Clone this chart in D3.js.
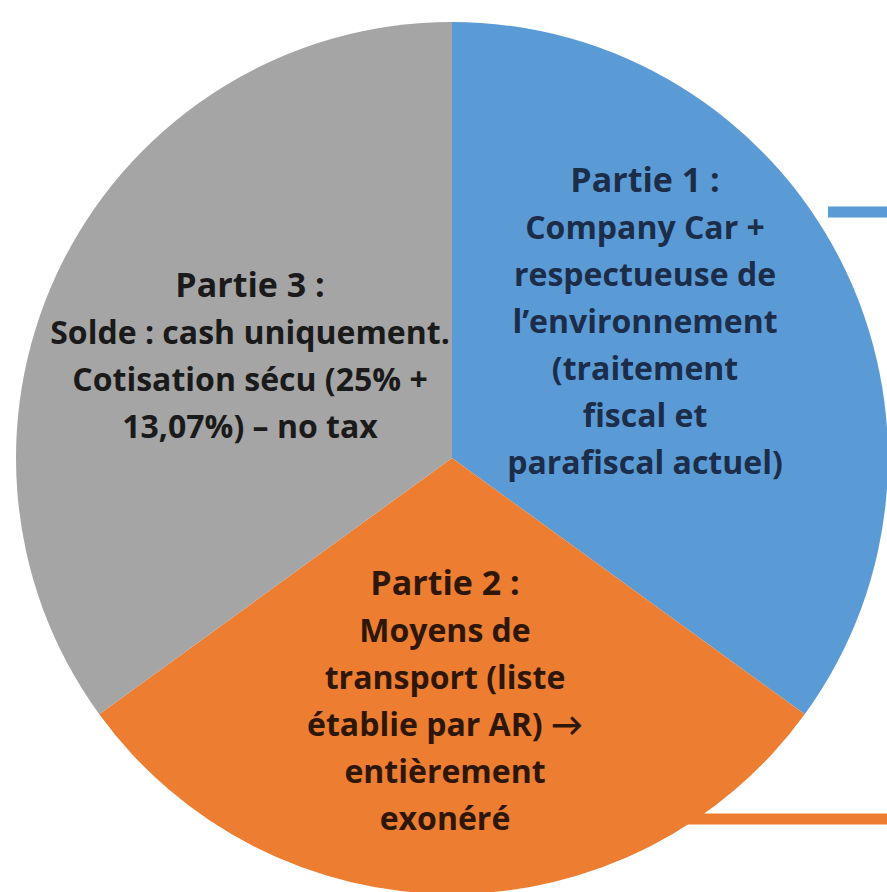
<!DOCTYPE html>
<html>
<head>
<meta charset="utf-8">
<script src="https://cdn.jsdelivr.net/npm/d3@7"></script>
<style>
  html, body { margin: 0; padding: 0; background: #ffffff; }
  svg { display: block; }
</style>
</head>
<body>
<script>
// ---- Data ----
const categories = ["Partie 1", "Partie 2", "Partie 3"];
const values = [35, 30, 35];
const labelLines = [
  ["Partie 1 :", "Company Car +", "respectueuse de", "l\u2019environnement", "(traitement", "fiscal et", "parafiscal actuel)"],
  ["Partie 2 :", "Moyens de", "transport (liste", "\u00e9tablie par AR) \u2192", "enti\u00e8rement", "exon\u00e9r\u00e9"],
  ["Partie 3 :", "Solde : cash uniquement.", "Cotisation s\u00e9cu (25% +", "13,07%) \u2013 no tax"]
];
const sliceColors = ["#5b9bd5", "#ed7d31", "#a5a5a5"];
const textColors = ["#1c2d4a", "#2e1608", "#1a1a1a"];

// ---- Layout ----
const W = 887, H = 892;
const cx = 452, cy = 458, R = 436;
// label anchor (first baseline) offsets from pie centre
const labelOffsets = [[193, -266], [-7, 137], [-202, -161]];
const lineStep = 47;

const svg = d3.select("body").append("svg")
  .attr("width", W).attr("height", H);

const pie = d3.pie().sort(null).value(d => d)(values);
const arc = d3.arc().innerRadius(0).outerRadius(R);

const g = svg.append("g").attr("transform", `translate(${cx},${cy})`);

g.selectAll("path.slice")
  .data(pie)
  .join("path")
  .attr("class", "slice")
  .attr("d", arc)
  .attr("fill", (d, i) => sliceColors[i]);

// leader lines on the right
svg.append("line")
  .attr("x1", 828).attr("x2", W).attr("y1", 212).attr("y2", 212)
  .attr("stroke", sliceColors[0]).attr("stroke-width", 11);
svg.append("line")
  .attr("x1", 687).attr("x2", W).attr("y1", 819).attr("y2", 819)
  .attr("stroke", sliceColors[1]).attr("stroke-width", 11);

// labels
const labels = g.selectAll("text.lbl")
  .data(pie)
  .join("text")
  .attr("class", "lbl")
  .attr("text-anchor", "middle")
  .attr("font-family", "'Open Sans', Lato, sans-serif")
  .attr("font-weight", 700)
  .attr("fill", (d, i) => textColors[i]);

labels.each(function(d, i) {
  const t = d3.select(this);
  labelLines[i].forEach((line, j) => {
    t.append("tspan")
      .attr("x", labelOffsets[i][0])
      .attr("y", labelOffsets[i][1] + j * lineStep)
      .attr("font-size", j === 0 ? 34 : 32)
      .text(line);
  });
});
</script>
</body>
</html>
